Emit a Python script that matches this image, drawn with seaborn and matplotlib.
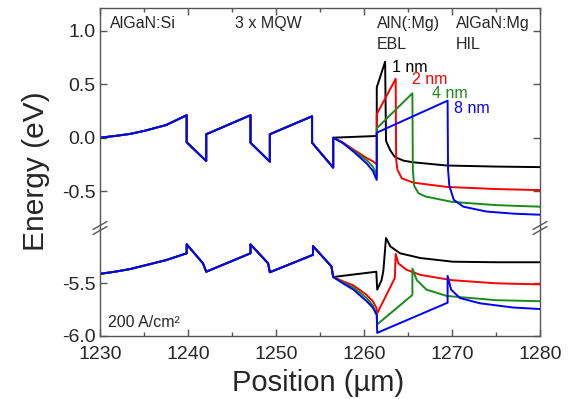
import numpy as np
import pandas as pd
import matplotlib
matplotlib.use("Agg")
import matplotlib.pyplot as plt
import seaborn as sns
from matplotlib.lines import Line2D

# ---------------- data ----------------
series = ["1 nm", "2 nm", "4 nm", "8 nm"]
colors = ["#000000", "#ff0000", "#1a8a1a", "#0000ff"]

# conduction band, common MQW part
mqw_cb_x = [1230, 1231.7, 1233.4, 1235.1, 1237.5, 1239.85, 1239.85, 1242.07, 1242.07,
            1247.1, 1247.1, 1249.3, 1249.3, 1254.1, 1254.1, 1256.5, 1256.5]
mqw_cb_y = [0.0, 0.016, 0.035, 0.065, 0.118, 0.21, -0.043, -0.218, 0.032,
            0.21, -0.047, -0.224, 0.032, 0.20, -0.047, -0.28, 0.0]

# conduction band, EBL/HIL part per thickness
cb1_x = [1261.45, 1261.45, 1262.4, 1262.5, 1263.0, 1263.5, 1264.5, 1265.6, 1269.4, 1275, 1280]
cb1_y = [0.016, 0.47, 0.71, -0.03, -0.12, -0.18, -0.215, -0.23, -0.26, -0.27, -0.275]
cb2_x = [1257.6, 1258.8, 1260.3, 1261.0, 1261.45, 1261.45, 1263.6, 1263.65, 1263.8, 1264.3,
         1265.6, 1269.4, 1275, 1280]
cb2_y = [-0.045, -0.11, -0.19, -0.22, -0.25, 0.22, 0.55, -0.2, -0.3, -0.38,
         -0.42, -0.46, -0.48, -0.49]
cb4_x = [1257.6, 1258.8, 1260.3, 1261.0, 1261.45, 1261.45, 1265.5, 1265.55, 1265.7, 1266.2,
         1267, 1270, 1275, 1280]
cb4_y = [-0.05, -0.12, -0.21, -0.27, -0.35, 0.088, 0.415, -0.3, -0.45, -0.52,
         -0.55, -0.6, -0.63, -0.645]
cb8_x = [1257.6, 1258.8, 1260.3, 1261.0, 1261.45, 1261.45, 1269.5, 1269.55, 1269.7, 1270.2,
         1271.3, 1273.9, 1277, 1280]
cb8_y = [-0.05, -0.13, -0.24, -0.31, -0.395, 0.047, 0.346, -0.3, -0.45, -0.58,
         -0.645, -0.69, -0.71, -0.72]

# valence band, common MQW part
mqw_vb_x = [1230, 1231.7, 1233.4, 1235.1, 1237.5, 1239.85, 1239.85, 1241.7, 1242.07,
            1247.1, 1247.1, 1249.1, 1249.3, 1254.2, 1254.2, 1256.3, 1256.5]
mqw_vb_y = [-5.41, -5.39, -5.365, -5.33, -5.28, -5.215, -5.13, -5.31, -5.39,
            -5.215, -5.13, -5.31, -5.395, -5.23, -5.146, -5.34, -5.44]

vb1_x = [1261.4, 1261.5, 1262.0, 1262.2, 1262.5, 1263.0, 1264.1, 1266.4, 1270.1, 1275, 1280]
vb1_y = [-5.39, -5.56, -5.47, -5.38, -5.07, -5.15, -5.215, -5.26, -5.295, -5.30, -5.30]
vb2_x = [1257.6, 1258.8, 1260.3, 1261.0, 1261.4, 1261.5, 1263.5, 1263.6, 1263.9, 1264.8,
         1266.4, 1270, 1275, 1280]
vb2_y = [-5.48, -5.52, -5.61, -5.67, -5.73, -5.785, -5.45, -5.22, -5.31, -5.37,
         -5.42, -5.47, -5.50, -5.51]
vb4_x = [1257.6, 1258.8, 1260.3, 1261.0, 1261.45, 1261.5, 1265.5, 1265.5, 1266.0, 1267.1,
         1269.4, 1275, 1280]
vb4_y = [-5.49, -5.54, -5.64, -5.71, -5.80, -5.89, -5.61, -5.36, -5.47, -5.56,
         -5.62, -5.66, -5.67]
vb8_x = [1257.6, 1258.8, 1260.3, 1261.0, 1261.45, 1261.5, 1269.5, 1269.5, 1269.9, 1270.9,
         1273.2, 1277, 1280]
vb8_y = [-5.50, -5.56, -5.67, -5.73, -5.80, -5.97, -5.684, -5.43, -5.56, -5.64,
         -5.69, -5.73, -5.744]

x_ticks = [1230, 1240, 1250, 1260, 1270, 1280]
y_ticks_top = [-0.5, 0.0, 0.5, 1.0]
y_ticks_bot = [-6.0, -5.5]

# ---------------- build tables ----------------
cb_parts = [(cb1_x, cb1_y), (cb2_x, cb2_y), (cb4_x, cb4_y), (cb8_x, cb8_y)]
vb_parts = [(vb1_x, vb1_y), (vb2_x, vb2_y), (vb4_x, vb4_y), (vb8_x, vb8_y)]
rows_cb, rows_vb = [], []
for s, (px, py) in zip(series, cb_parts):
    for xx, yy in zip(mqw_cb_x + px, mqw_cb_y + py):
        rows_cb.append((s, xx, yy))
for s, (px, py) in zip(series, vb_parts):
    for xx, yy in zip(mqw_vb_x + px, mqw_vb_y + py):
        rows_vb.append((s, xx, yy))
df_cb = pd.DataFrame(rows_cb, columns=["t", "pos", "E"])
df_vb = pd.DataFrame(rows_vb, columns=["t", "pos", "E"])

# ---------------- figure ----------------
sns.set_theme(style="ticks")
plt.rcParams["font.family"] = ["Liberation Sans", "DejaVu Sans"]

W, H = 572, 399
fig = plt.figure(figsize=(W / 100, H / 100), dpi=100)
L, R = 100 / W, 540 / W
ytop, ybrk, ybot = 8, 228, 336
ax1 = fig.add_axes([L, 1 - ybrk / H, R - L, (ybrk - ytop) / H])
ax2 = fig.add_axes([L, 1 - ybot / H, R - L, (ybot - ybrk) / H], sharex=ax1)

pal = dict(zip(series, colors))
for ax, df in ((ax1, df_cb), (ax2, df_vb)):
    sns.lineplot(data=df, x="pos", y="E", hue="t", hue_order=series, palette=pal,
                 sort=False, estimator=None, legend=False, lw=1.4, ax=ax)
    ax.set_xlabel("")
    ax.set_ylabel("")

spc = "#555555"
ax1.set_xlim(1230, 1280)
ax1.set_ylim(-0.844, 1.212)
ax2.set_ylim(-6.0, -4.975)
ax1.set_yticks(y_ticks_top)
ax1.set_yticklabels([f"{v:.1f}" for v in y_ticks_top])
ax2.set_yticks(y_ticks_bot)
ax2.set_yticklabels([f"{v:.1f}" for v in y_ticks_bot])
ax2.set_xticks(x_ticks)
ax2.set_xticklabels([str(v) for v in x_ticks])
ax2.set_xticks(np.arange(1235, 1280, 10), minor=True)

for ax in (ax1, ax2):
    for sp in ax.spines.values():
        sp.set_color(spc)
        sp.set_linewidth(1.0)
    ax.tick_params(axis="both", which="both", direction="in", color=spc,
                   labelsize=14, pad=3)
    ax.tick_params(axis="both", which="major", length=5, width=1)
    ax.tick_params(axis="both", which="minor", length=3, width=1)
    ax.tick_params(axis="y", which="both", left=True, right=True)

ax1.spines["bottom"].set_visible(False)
ax2.spines["top"].set_visible(False)
ax1.tick_params(axis="x", which="both", bottom=False, top=True, labelbottom=False)
ax2.tick_params(axis="x", which="both", bottom=True, top=False, labelbottom=True, pad=7)

fig.text(318 / W, 1 - 391 / H, "Position (µm)", fontsize=21, ha="center", va="baseline")
fig.text(36 / W, 1 - 171 / H, "Energy (eV)", rotation=90, fontsize=21.5,
         ha="center", va="center")

# break marks
for xc in (100, 540):
    for dy in (-2.5, 2.5):
        fig.add_artist(Line2D([(xc - 7) / W, (xc + 7) / W],
                              [1 - (ybrk + dy + 4) / H, 1 - (ybrk + dy - 4) / H],
                              transform=fig.transFigure, color=spc, lw=1.0))

# annotations
def ftxt(x, y, s, **kw):
    fig.text(x / W, 1 - y / H, s, va="baseline", ha="left", **kw)

ftxt(110, 28, "AlGaN:Si", fontsize=11.5)
ftxt(235, 28, "3 x MQW", fontsize=11.5)
ftxt(377, 28, "AlN(:Mg)", fontsize=11.5)
ftxt(377, 49, "EBL", fontsize=11.5)
ftxt(456, 28, "AlGaN:Mg", fontsize=11.5)
ftxt(456, 49, "HIL", fontsize=11.5)
lab_pos = [(392, 72), (412, 84), (432, 98), (454, 113)]
for s, c, (xx, yy) in zip(series, colors, lab_pos):
    ftxt(xx, yy, s, fontsize=11.5, color=c)
ftxt(108, 327, "200 A/cm²", fontsize=11.5)

fig.savefig("out.png", dpi=100)
